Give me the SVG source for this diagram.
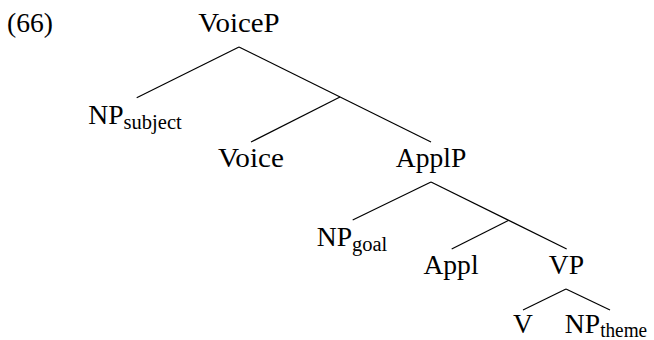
<svg xmlns="http://www.w3.org/2000/svg" width="654" height="340" viewBox="0 0 654 340">
<style>
text{font-family:"Liberation Serif","Times New Roman",serif;font-size:27.6px;fill:#000}
.n{text-anchor:middle}
.sub{font-size:20.5px}
.e{stroke:#000;stroke-width:1.2;fill:none;stroke-linecap:butt}
</style>
<rect width="654" height="340" fill="#fff"/>
<g id="label"><text x="7" y="32" textLength="46" lengthAdjust="spacingAndGlyphs">(66)</text></g>
<g id="connectors">
<line class="e" x1="239" y1="47" x2="136.7" y2="97.7"/>
<line class="e" x1="239" y1="47" x2="431" y2="142"/>
<line class="e" x1="340" y1="97" x2="251" y2="142"/>
<line class="e" x1="431" y1="182" x2="352.7" y2="220"/>
<line class="e" x1="431" y1="182" x2="566.7" y2="249"/>
<line class="e" x1="508.3" y1="220.5" x2="451.7" y2="249"/>
<line class="e" x1="566" y1="289" x2="523" y2="310"/>
<line class="e" x1="566" y1="289" x2="610" y2="310"/>
</g>
<g id="VoiceP"><text class="n" x="239" y="32" textLength="81.3" lengthAdjust="spacingAndGlyphs">VoiceP</text></g>
<g id="NPsubject"><text class="n" x="135" y="123.5"><tspan textLength="35.3" lengthAdjust="spacingAndGlyphs">NP</tspan><tspan class="sub" dy="5" textLength="58.1" lengthAdjust="spacingAndGlyphs">subject</tspan></text></g>
<g id="Voice"><text class="n" x="251" y="166.7" textLength="65.9" lengthAdjust="spacingAndGlyphs">Voice</text></g>
<g id="ApplP"><text class="n" x="431" y="166.7" textLength="70.5" lengthAdjust="spacingAndGlyphs">ApplP</text></g>
<g id="NPgoal"><text class="n" x="352" y="245.5"><tspan textLength="35.3" lengthAdjust="spacingAndGlyphs">NP</tspan><tspan class="sub" dy="5" textLength="35.3" lengthAdjust="spacingAndGlyphs">goal</tspan></text></g>
<g id="Appl"><text class="n" x="451" y="274" textLength="55.2" lengthAdjust="spacingAndGlyphs">Appl</text></g>
<g id="VP"><text class="n" x="566.5" y="274" textLength="35.3" lengthAdjust="spacingAndGlyphs">VP</text></g>
<g id="V"><text class="n" x="523" y="333" textLength="19.9" lengthAdjust="spacingAndGlyphs">V</text></g>
<g id="NPtheme"><text class="n" x="606" y="333"><tspan textLength="35.3" lengthAdjust="spacingAndGlyphs">NP</tspan><tspan class="sub" dy="4" textLength="47" lengthAdjust="spacingAndGlyphs">theme</tspan></text></g>
</svg>
